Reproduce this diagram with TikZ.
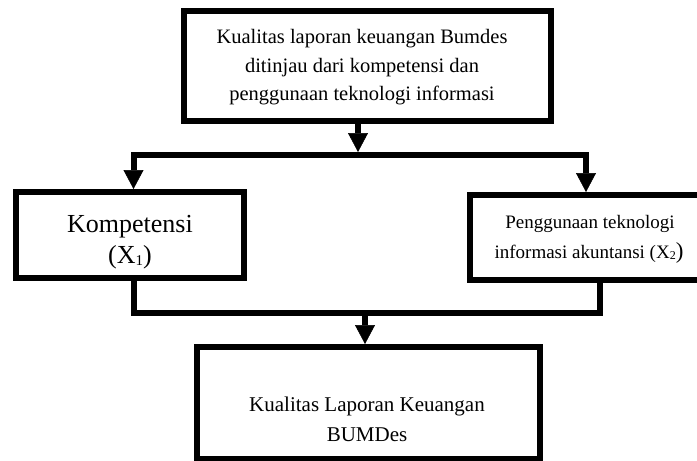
\documentclass[tikz,border=0pt]{standalone}
\usepackage{fontspec}
\setmainfont{Liberation Serif}
\usetikzlibrary{arrows.meta}
\begin{document}
\begin{tikzpicture}[x=1pt,y=-1pt,
  box/.style={draw=black, line width=6pt, rectangle, inner sep=0pt},
  conn/.style={draw=black, line width=6pt, line join=miter, line cap=butt},
  tri/.tip={Triangle[width=20pt,length=19pt,line width=0.5pt]},
  lbl/.style={anchor=base, inner sep=0pt},
  ftop/.style={font=\fontsize{20.5}{24}\selectfont},
  fbig/.style={font=\fontsize{26}{30}\selectfont},
  fright/.style={font=\fontsize{19}{22}\selectfont},
  fbot/.style={font=\fontsize{21}{25}\selectfont}]
\useasboundingbox (0,0) rectangle (697,461);
\clip (0,0) rectangle (697,461);

% boxes
\node[box, minimum width=367pt, minimum height=110pt] (top) at (367.5,66) {};
\node[box, minimum width=228pt, minimum height=86pt] (left) at (130,235) {};
\node[box, minimum width=242pt, minimum height=85pt] (right) at (591,237.5) {};
\node[box, minimum width=343pt, minimum height=111.5pt] (bottom) at (368.5,402.75) {};

% texts
\node[lbl, ftop] (t1a) at (362,43) {Kualitas laporan keuangan Bumdes};
\node[lbl, ftop] (t1b) at (362,72) {ditinjau dari kompetensi dan};
\node[lbl, ftop] (t1c) at (362,100.5) {penggunaan teknologi informasi};

\node[lbl, fbig] (t2a) at (130,232) {Kompetensi};
\node[lbl, fbig] (t2b) at (130,263) {(X\raisebox{-2pt}{\fontsize{15}{15}\selectfont 1})};

\node[lbl, fright] (t3a) at (590,228) {Penggunaan teknologi};
\node[lbl, fright] (t3b) at (589,258) {informasi akuntansi (X\raisebox{-1.5pt}{\fontsize{12}{12}\selectfont 2}{\fontsize{23}{23}\selectfont )}};

\node[lbl, fbot] (t4a) at (367,411) {Kualitas Laporan Keuangan};
\node[lbl, fbot] (t4b) at (367,441) {BUMDes};

% junction coordinates
\coordinate (a1end) at (358,152);
\coordinate (h1L) at (133.5,155);
\coordinate (h1R) at (586,155);
\coordinate (h2L) at (133.5,313);
\coordinate (h2R) at (600,313);
\coordinate (a3start) at (365,313);

% connectors
\draw[conn, -tri] (top.south -| a1end) -- (a1end);
\draw[conn, tri-tri] (left.north -| h1L) -- (h1L) -- (h1R) -- (right.north -| h1R);
\draw[conn] (left.south -| h2L) -- (h2L) -- (h2R) -- (right.south -| h2R);
\draw[conn, -tri] (a3start) -- (bottom.north -| a3start);
\end{tikzpicture}
\end{document}
